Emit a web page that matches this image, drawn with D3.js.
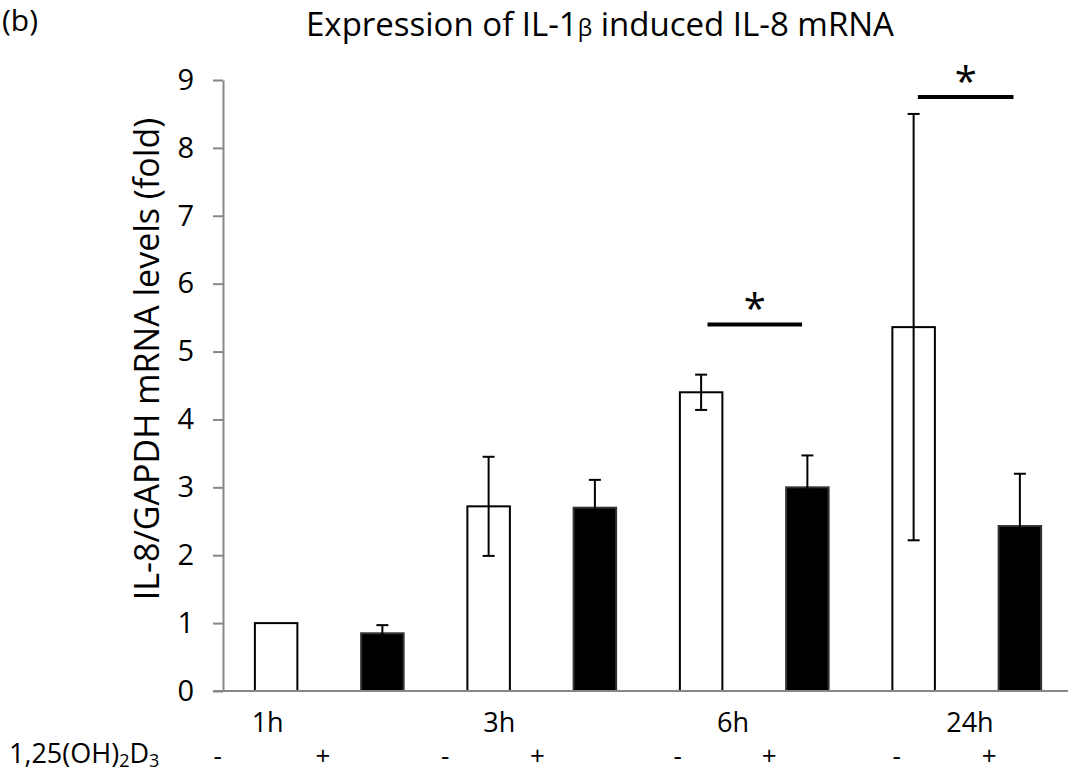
<!DOCTYPE html>
<html>
<head>
<meta charset="utf-8">
<script src="https://cdn.jsdelivr.net/npm/d3@7"></script>
<style>
  html, body { margin: 0; padding: 0; background: #fff; }
  svg { display: block; font-family: "Open Sans", Lato, sans-serif; }
</style>
</head>
<body>
<svg id="chart" width="1068" height="776"></svg>
<script>
// ---- data ----
const barIds = ["1h-", "1h+", "3h-", "3h+", "6h-", "6h+", "24h-", "24h+"];
const treatment = ["-", "+", "-", "+", "-", "+", "-", "+"];
const values = [1.00, 0.85, 2.72, 2.70, 4.40, 3.00, 5.36, 2.43];
const errors = [0.00, 0.12, 0.73, 0.41, 0.26, 0.47, 3.14, 0.77];
const timeLabels = ["1h", "3h", "6h", "24h"];
const timeLabelSlots = [0.42, 2.60, 4.80, 7.03];
const treatmentSlots = [-0.05, 0.94, 2.09, 2.96, 4.28, 5.14, 6.34, 7.21];
const yTicks = [0, 1, 2, 3, 4, 5, 6, 7, 8, 9];
const sigBrackets = [
  { x0: 4.56, x1: 5.45, y: 5.40, label: "*" },
  { x0: 6.54, x1: 7.44, y: 8.75, label: "*" }
];

const svg = d3.select("#chart");
const plotLeft = 223, plotRight = 1073, plotTop = 80, plotBottom = 691;

const x = d3.scaleBand().domain(barIds).range([plotLeft, plotRight])
  .paddingInner(0.6).paddingOuter(0.3);
const slot = d3.scaleLinear().domain([0, 8]).range([plotLeft, plotRight]);
const y = d3.scaleLinear().domain([0, 9]).range([plotBottom, plotTop]);

const axisColor = "#878787";

// title
const title = svg.append("text")
  .attr("x", 600).attr("y", 36)
  .attr("text-anchor", "middle")
  .attr("font-size", 33).attr("fill", "#000");
title.append("tspan").text("Expression of IL-1");
title.append("tspan").attr("font-size", 23).text("β");
title.append("tspan").text(" induced IL-8 mRNA");

svg.append("text").attr("x", 2).attr("y", 31)
  .attr("font-size", 30).text("(b)");

// y axis label
svg.append("text")
  .attr("transform", "translate(159,359) rotate(-90)")
  .attr("text-anchor", "middle")
  .attr("font-size", 34)
  .text("IL-8/GAPDH mRNA levels (fold)");

// y axis
const yAxis = svg.append("g")
  .attr("transform", `translate(${plotLeft},0)`)
  .call(d3.axisLeft(y).tickValues(yTicks).tickSize(10).tickSizeOuter(0).tickPadding(19));
yAxis.select(".domain").attr("stroke", axisColor).attr("stroke-width", 2);
yAxis.selectAll(".tick line").attr("stroke", axisColor).attr("stroke-width", 2);
yAxis.selectAll(".tick text").attr("font-size", 29).attr("font-family", "'Open Sans', sans-serif")
  .attr("fill", "#000");

// bars
const bars = values.map((v, i) => ({ id: barIds[i], v, e: errors[i], t: treatment[i] }));
svg.append("g").selectAll("rect").data(bars).join("rect")
  .attr("x", d => x(d.id))
  .attr("y", d => y(d.v))
  .attr("width", x.bandwidth())
  .attr("height", d => y(0) - y(d.v))
  .attr("fill", d => d.t === "+" ? "#000" : "#fff")
  .attr("stroke", d => d.t === "+" ? "#333" : "#000")
  .attr("stroke-width", 2);

// error bars
const eg = svg.append("g").attr("stroke", "#000").attr("stroke-width", 2);
bars.filter(d => d.e > 0).forEach(d => {
  const cx = x(d.id) + x.bandwidth() / 2;
  eg.append("line").attr("x1", cx).attr("x2", cx)
    .attr("y1", y(d.v + d.e)).attr("y2", y(d.v - d.e));
  [d.v + d.e, d.v - d.e].forEach(val => {
    eg.append("line").attr("x1", cx - 6).attr("x2", cx + 6)
      .attr("y1", y(val)).attr("y2", y(val));
  });
});

// x axis line
svg.append("line")
  .attr("x1", plotLeft - 10).attr("x2", 1068)
  .attr("y1", y(0)).attr("y2", y(0))
  .attr("stroke", axisColor).attr("stroke-width", 2);

// significance brackets
sigBrackets.forEach(s => {
  svg.append("line")
    .attr("x1", slot(s.x0)).attr("x2", slot(s.x1))
    .attr("y1", y(s.y)).attr("y2", y(s.y))
    .attr("stroke", "#000").attr("stroke-width", 4);
  svg.append("text")
    .attr("x", (slot(s.x0) + slot(s.x1)) / 2)
    .attr("y", y(s.y) - 1)
    .attr("text-anchor", "middle")
    .attr("font-size", 40)
    .text(s.label);
});

// time labels
svg.append("g").selectAll("text").data(timeLabels).join("text")
  .attr("x", (d, i) => slot(timeLabelSlots[i]))
  .attr("y", 732)
  .attr("text-anchor", "middle")
  .attr("font-size", 27)
  .text(d => d);

// treatment row
const tl = svg.append("text").attr("x", 9).attr("y", 763).attr("font-size", 27);
tl.append("tspan").text("1,25(OH)");
tl.append("tspan").attr("font-size", 18).attr("dy", 4).text("2");
tl.append("tspan").attr("dy", -4).text("D");
tl.append("tspan").attr("font-size", 18).attr("dy", 4).text("3");

svg.append("g").selectAll("text").data(treatment).join("text")
  .attr("x", (d, i) => slot(treatmentSlots[i]))
  .attr("y", 765)
  .attr("text-anchor", "middle")
  .attr("font-size", 26)
  .text(d => d);
</script>
</body>
</html>
